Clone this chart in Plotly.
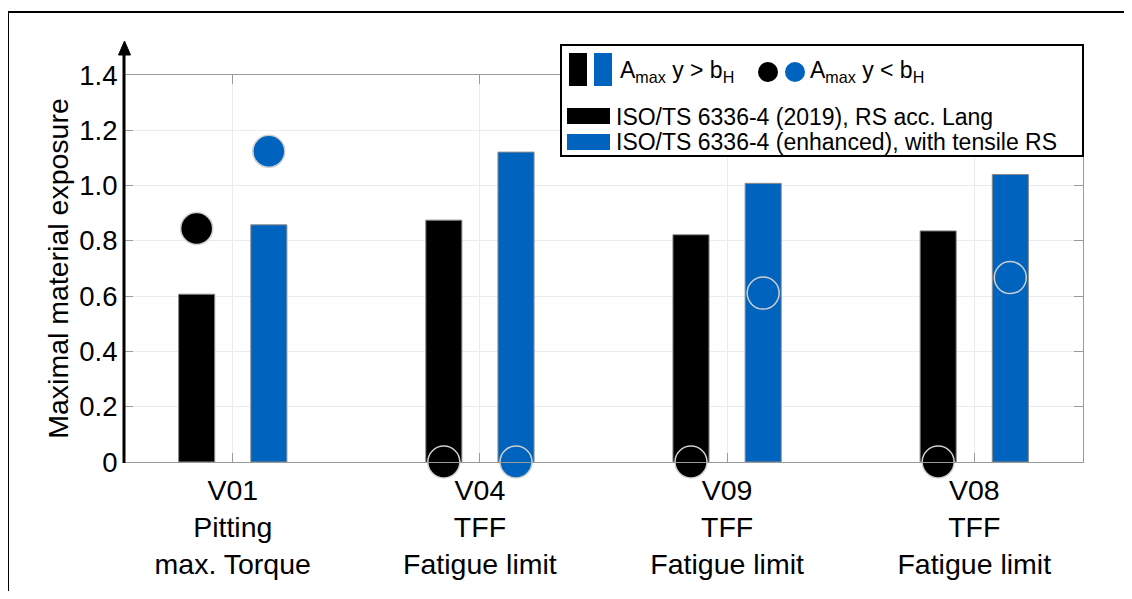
import plotly.graph_objects as go

# ---- data ----
groups = ["V01<br>Pitting<br>max. Torque", "V04<br>TFF<br>Fatigue limit",
          "V09<br>TFF<br>Fatigue limit", "V08<br>TFF<br>Fatigue limit"]
group_pos = [0, 1, 2, 3]
black_bars = [0.607, 0.875, 0.822, 0.836]
blue_bars = [0.858, 1.121, 1.008, 1.040]
black_dots = [0.845, 0.0, 0.0, 0.0]
blue_dots = [1.124, 0.0, 0.611, 0.667]
y_tickvals = [0, 0.2, 0.4, 0.6, 0.8, 1.0, 1.2, 1.4]
y_ticktext = ["0", "0.2", "0.4", "0.6", "0.8", "1.0", "1.2", "1.4"]
name_black = "ISO/TS 6336-4 (2019), RS acc. Lang"
name_blue = "ISO/TS 6336-4 (enhanced), with tensile RS"

BLACK = "#000000"
BLUE = "#0063be"
FONT = "Liberation Sans, Arial, sans-serif"

# page body has an 8px margin; the figure is sized to fit inside it
OFF = 8
W, H = 1132 - 2 * OFF, 599 - 2 * OFF
PL, PR, PT, PB = 124, 1083, 75, 462          # plot area in page pixels
ML, MR, MT, MB = PL - OFF, W - (PR - OFF), PT - OFF, H - (PB - OFF)
PW, PH = PR - PL, PB - PT


def px(x):
    return (x - PL) / PW


def py(y):
    return (PB - y) / PH


fig = go.Figure()
fig.add_trace(go.Bar(x=group_pos, y=black_bars, name=name_black, offsetgroup="a",
                     marker=dict(color=BLACK, line=dict(color="#8a8a8a", width=1))))
fig.add_trace(go.Bar(x=group_pos, y=blue_bars, name=name_blue, offsetgroup="b",
                     marker=dict(color=BLUE, line=dict(color="#8a8a8a", width=1))))
fig.add_trace(go.Scatter(x=group_pos, y=black_dots, mode="markers", offsetgroup="a",
                         cliponaxis=False,
                         marker=dict(size=32, color=BLACK, line=dict(color="#cfcfcf", width=1.5))))
fig.add_trace(go.Scatter(x=group_pos, y=blue_dots, mode="markers", offsetgroup="b",
                         cliponaxis=False,
                         marker=dict(size=32, color=BLUE, line=dict(color="#cfcfcf", width=1.5))))

shapes = []
# outer frame
shapes.append(dict(type="rect", xref="paper", yref="paper", x0=px(8), x1=px(1160),
                   y0=py(630), y1=py(12), line=dict(color="#000", width=2), layer="above"))
# black y axis with arrow
shapes.append(dict(type="line", xref="paper", yref="paper", x0=0, x1=0, y0=py(463), y1=py(50),
                   line=dict(color="#000", width=3), layer="above"))
shapes.append(dict(type="path", xref="paper", yref="paper",
                   path=f"M {px(124.5)} {py(41)} L {px(118.5)} {py(55)} L {px(130.5)} {py(55)} Z",
                   fillcolor="#000", line=dict(color="#000", width=1), layer="above"))
# legend box
shapes.append(dict(type="rect", xref="paper", yref="paper", x0=px(561), x1=px(1083),
                   y0=py(156), y1=py(45), fillcolor="white", line=dict(color="#000", width=2),
                   layer="above"))
# legend symbols row 1
shapes.append(dict(type="rect", xref="paper", yref="paper", x0=px(569), x1=px(587),
                   y0=py(86), y1=py(53), fillcolor=BLACK, line=dict(width=0), layer="above"))
shapes.append(dict(type="rect", xref="paper", yref="paper", x0=px(594), x1=px(612),
                   y0=py(86), y1=py(53), fillcolor=BLUE, line=dict(width=0), layer="above"))
shapes.append(dict(type="circle", xref="paper", yref="paper", x0=px(758), x1=px(778),
                   y0=py(82), y1=py(62), fillcolor=BLACK, line=dict(width=0), layer="above"))
shapes.append(dict(type="circle", xref="paper", yref="paper", x0=px(785), x1=px(805),
                   y0=py(82), y1=py(62), fillcolor=BLUE, line=dict(width=0), layer="above"))
# legend symbols rows 2,3
shapes.append(dict(type="rect", xref="paper", yref="paper", x0=px(567), x1=px(610),
                   y0=py(124), y1=py(108), fillcolor=BLACK, line=dict(width=0), layer="above"))
shapes.append(dict(type="rect", xref="paper", yref="paper", x0=px(567), x1=px(610),
                   y0=py(150), y1=py(134), fillcolor=BLUE, line=dict(width=0), layer="above"))

annotations = [
    dict(xref="paper", yref="paper", x=px(618), y=py(72), xanchor="left", yanchor="middle",
         text="A<sub>max</sub> y &gt; b<sub>H</sub>", showarrow=False,
         font=dict(family=FONT, size=23, color="#000")),
    dict(xref="paper", yref="paper", x=px(808), y=py(72), xanchor="left", yanchor="middle",
         text="A<sub>max</sub> y &lt; b<sub>H</sub>", showarrow=False,
         font=dict(family=FONT, size=23, color="#000")),
    dict(xref="paper", yref="paper", x=px(614), y=py(117), xanchor="left", yanchor="middle",
         text=name_black, showarrow=False, font=dict(family=FONT, size=23, color="#000")),
    dict(xref="paper", yref="paper", x=px(614), y=py(142), xanchor="left", yanchor="middle",
         text=name_blue, showarrow=False, font=dict(family=FONT, size=23, color="#000")),
]

fig.update_layout(
    width=W, height=H,
    margin=dict(l=ML, r=MR, t=MT, b=MB),
    paper_bgcolor="white", plot_bgcolor="white",
    barmode="group", bargap=0.416, bargroupgap=0.5,
    scattermode="group", scattergap=0.416,
    showlegend=False,
    font=dict(family=FONT, color="#000"),
    shapes=shapes, annotations=annotations,
    xaxis=dict(range=[-0.44, 3.44], tickmode="array", tickvals=group_pos, ticktext=groups,
               showgrid=True, gridcolor="#ebebeb", gridwidth=1,
               showline=True, linecolor="#9a9a9a", linewidth=1, mirror="ticks",
               ticks="inside", ticklen=9, tickcolor="#9a9a9a", ticklabelstandoff=3,
               tickfont=dict(family=FONT, size=28.5, color="#000"), zeroline=False),
    yaxis=dict(range=[0, 1.4], tickmode="array", tickvals=y_tickvals, ticktext=y_ticktext,
               showgrid=True, gridcolor="#ebebeb", gridwidth=1,
               showline=True, linecolor="#9a9a9a", linewidth=1, mirror="ticks",
               ticks="inside", ticklen=9, tickcolor="#9a9a9a",
               tickfont=dict(family=FONT, size=27.5, color="#000"), zeroline=False,
               title=dict(text="Maximal material exposure", standoff=2,
                          font=dict(family=FONT, size=28.5, color="#000"))),
)

fig.write_html("out.html")
